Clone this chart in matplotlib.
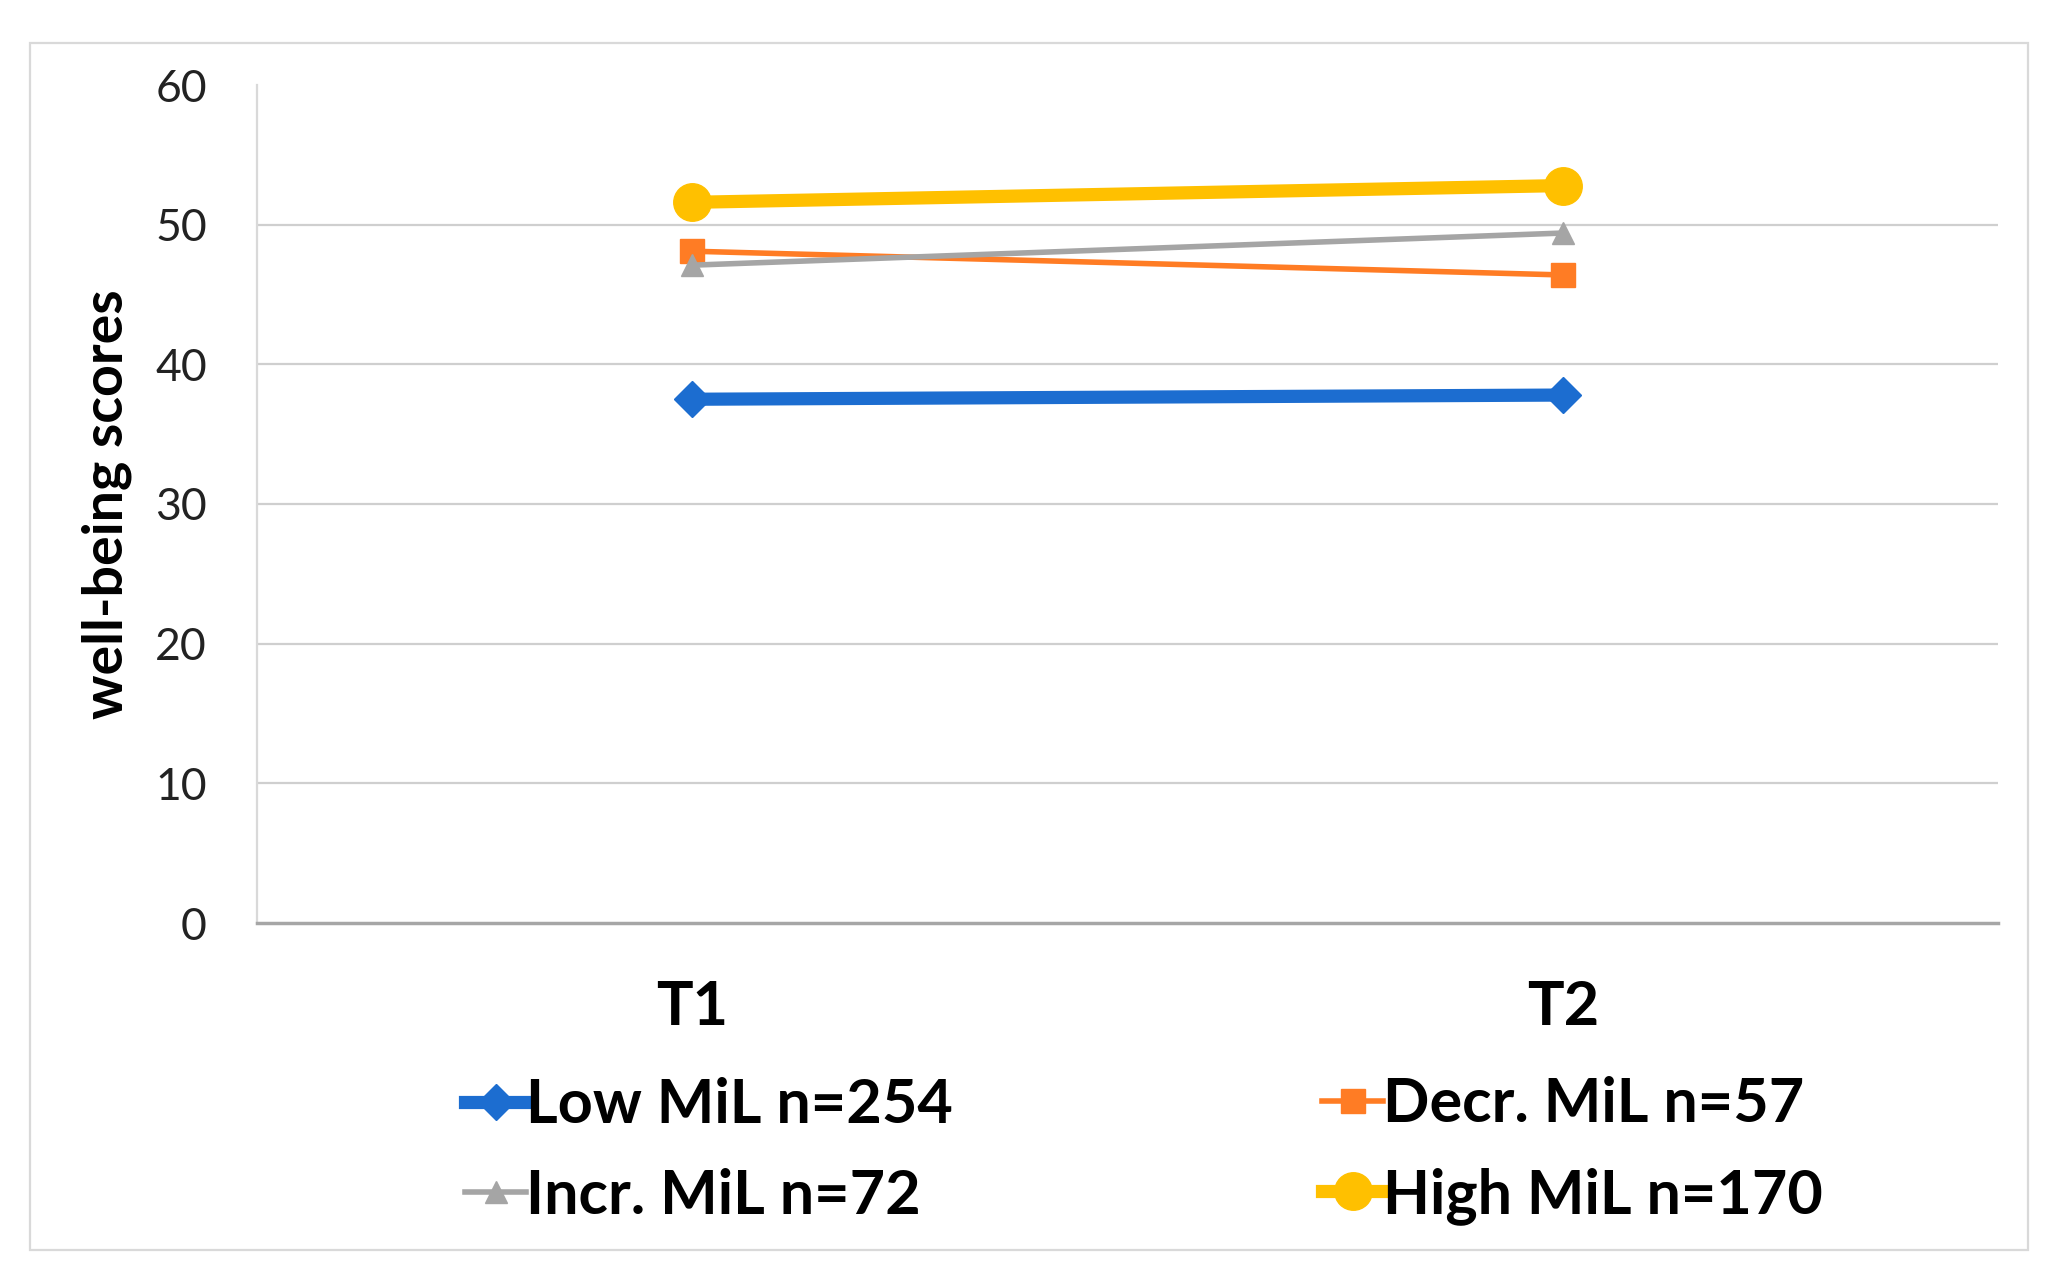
import matplotlib
matplotlib.use("Agg")
import matplotlib.pyplot as plt
from matplotlib.patches import Rectangle

# values
times = ["T1", "T2"]
low = [37.5, 37.8]
decr = [48.1, 46.4]
incr = [47.1, 49.4]
high = [51.6, 52.8]
labels = ["Low MiL n=254", "Decr. MiL n=57", "Incr. MiL n=72", "High MiL n=170"]
yticks = [0, 10, 20, 30, 40, 50, 60]

plt.rcParams['font.family'] = ['Lato', 'DejaVu Sans']

fig = plt.figure(figsize=(20.63, 12.84), dpi=100)
ax = fig.add_axes([257 / 2063, 1 - 923 / 1284, 1741 / 2063, 838 / 1284])

x = list(range(len(times)))
l_low, = ax.plot(x, low, color='#1C6DD0', lw=9.5, marker='D', ms=18.5, label=labels[0], zorder=3)
l_dec, = ax.plot(x, decr, color='#FF7C24', lw=4, marker='s', ms=17, label=labels[1], zorder=4)
l_inc, = ax.plot(x, incr, color='#A5A5A5', lw=4, marker='^', ms=16.5, label=labels[2], zorder=5)
l_high, = ax.plot(x, high, color='#FFC000', lw=9.5, marker='o', ms=27, label=labels[3], zorder=6)

ax.set_xlim(-0.5, 1.5)
ax.set_ylim(0, 60)
ax.set_yticks(yticks)
ax.set_xticks(x)
ax.set_xticklabels(times, fontsize=44, fontweight='bold')
ax.tick_params(axis='y', length=0, pad=36, labelsize=32, labelcolor='#222222')
ax.tick_params(axis='x', length=0, pad=40)

for v in yticks[1:-1]:
    ax.axhline(v, color='#cfcfcf', lw=1.6, zorder=1)
for s in ['top', 'right']:
    ax.spines[s].set_visible(False)
ax.spines['left'].set_color('#d9d9d9')
ax.spines['left'].set_linewidth(1.6)
ax.spines['bottom'].set_color('#a6a6a6')
ax.spines['bottom'].set_linewidth(2.5)

ax.set_ylabel("well-being scores", fontsize=40, fontweight='bold')
ax.yaxis.set_label_coords(-0.0718, 0.5)

legend_kw = dict(loc='center left', bbox_transform=fig.transFigure, frameon=False,
                 borderpad=0, borderaxespad=0, handlelength=1.0, handletextpad=0.0,
                 labelspacing=0.56, prop={'size': 44, 'weight': 'bold'})
leg1 = ax.legend([l_low, l_inc], [labels[0], labels[2]],
                 bbox_to_anchor=(465 / 2063, 1 - 1150.5 / 1284), **legend_kw)
ax.add_artist(leg1)
ax.legend([l_dec, l_high], [labels[1], labels[3]],
          bbox_to_anchor=(1322 / 2063, 1 - 1150.5 / 1284), **legend_kw)

fig.patches.append(Rectangle((30 / 2063, 1 - 1250 / 1284), 1998 / 2063, 1207 / 1284,
                             transform=fig.transFigure, fill=False,
                             edgecolor='#d9d9d9', lw=1.6))

fig.savefig("out.png", dpi=100)
